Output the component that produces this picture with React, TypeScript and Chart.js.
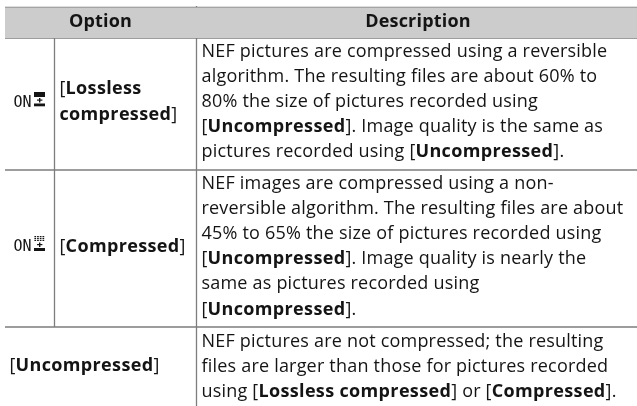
import React, { useEffect, useRef } from "react";
import { Chart, registerables } from "chart.js";

Chart.register(...registerables);

const headerLabels = ["Option", "Description"];
const optionLines = [
  ["[**Lossless**", "**compressed**]"],
  ["[**Compressed**]"],
  ["[**Uncompressed**]"],
];
const iconLabels = ["ON", "ON"];
const descriptionRows = [
  [
    "NEF pictures are compressed using a reversible",
    "algorithm. The resulting files are about 60% to",
    "80% the size of pictures recorded using",
    "[**Uncompressed**]. Image quality is the same as",
    "pictures recorded using [**Uncompressed**].",
  ],
  [
    "NEF images are compressed using a non-",
    "reversible algorithm. The resulting files are about",
    "45% to 65% the size of pictures recorded using",
    "[**Uncompressed**]. Image quality is nearly the",
    "same as pictures recorded using",
    "[**Uncompressed**].",
  ],
  [
    "NEF pictures are not compressed; the resulting",
    "files are larger than those for pictures recorded",
    "using [**Lossless compressed**] or [**Compressed**].",
  ],
];

const FONT = '"Open Sans", "Noto Sans", sans-serif';
const SIZE = 18;
const INK = "#141414";
const RULE = "#7d7d7d";

function drawRich(ctx: CanvasRenderingContext2D, text: string, x: number, y: number) {
  let cx = x;
  text.split("**").forEach((part, i) => {
    (ctx as any).letterSpacing = i % 2 ? "0.35px" : "0.2px";
    ctx.font = `${i % 2 ? "bold" : "normal"} ${SIZE}px ${FONT}`;
    ctx.fillText(part, cx, y);
    cx += ctx.measureText(part).width;
  });
}

const tablePlugin = {
  id: "tableText",
  afterDatasetsDraw(chart: any) {
    const { ctx, scales } = chart;
    const X = (v: number) => scales.x.getPixelForValue(v);
    const Y = (v: number) => scales.y.getPixelForValue(v);
    ctx.save();
    ctx.fillStyle = INK;
    ctx.textBaseline = "alphabetic";
    ctx.textAlign = "left";
    (ctx as any).letterSpacing = "0.2px";

    ctx.font = `bold ${SIZE}px ${FONT}`;
    const hw0 = ctx.measureText(headerLabels[0]).width;
    ctx.fillText(headerLabels[0], X(100.5) - hw0 / 2, Y(27));
    const hw1 = ctx.measureText(headerLabels[1]).width;
    ctx.fillText(headerLabels[1], X(418) - hw1 / 2, Y(27));

    const descStarts = [57, 189, 347];
    descriptionRows.forEach((lines, r) => {
      lines.forEach((line, i) => drawRich(ctx, line, X(201.5), Y(descStarts[r] + i * 25.1)));
    });

    drawRich(ctx, optionLines[0][0], X(59.5), Y(94));
    drawRich(ctx, optionLines[0][1], X(59.5), Y(120));
    drawRich(ctx, optionLines[1][0], X(59.5), Y(252));
    drawRich(ctx, optionLines[2][0], X(9.5), Y(371));

    (ctx as any).letterSpacing = "0px";
    ctx.font = '15px "DejaVu Sans Mono", monospace';
    ctx.fillText(iconLabels[0], X(13.5), Y(107));
    ctx.fillText(iconLabels[1], X(13.5), Y(251));

    const box = (x: number, y: number, w: number, h: number) =>
      ctx.fillRect(X(x), Y(y), X(x + w) - X(x), Y(y + h) - Y(y));
    // lossless glyph
    box(34, 92, 11, 5);
    box(39, 98, 1.4, 4.5);
    box(37, 99.5, 5.4, 1.2);
    box(34, 103.5, 11, 2.8);
    // compressed glyph
    for (let c = 0; c < 4; c++) for (let r = 0; r < 3; r++) box(34.4 + c * 2.7, 236 + r * 1.9, 1.7, 1.2);
    box(39, 242.5, 1.4, 4.5);
    box(37, 244, 5.4, 1.2);
    box(34, 248, 11, 3);
    ctx.restore();
  },
};

const topRule = [{ x: 5, y: 7.5 }, { x: 637, y: 7.5 }];
const headerRule = [{ x: 5, y: 38 }, { x: 637, y: 38 }];
const rowRuleA = [{ x: 5, y: 170 }, { x: 637, y: 170 }];
const rowRuleB = [{ x: 5, y: 327 }, { x: 637, y: 327 }];
const iconColumnRule = [{ x: 54.5, y: 37 }, { x: 54.5, y: 327 }];
const descColumnRule = [{ x: 196.5, y: 6 }, { x: 196.5, y: 406 }];
const rules = [topRule, headerRule, rowRuleA, rowRuleB, iconColumnRule, descColumnRule];
const headerBand = [{ x: 5, y: 38 }, { x: 637, y: 38 }];

export default function App() {
  const ref = useRef<HTMLCanvasElement>(null);
  useEffect(() => {
    document.body.style.margin = "0";
    document.body.style.background = "#fff";
    const chart = new Chart(ref.current!, {
      type: "line",
      data: {
        datasets: [
          {
            data: headerBand,
            borderWidth: 0,
            pointRadius: 0,
            fill: { value: 7.5 },
            backgroundColor: "#cccccc",
          } as any,
          ...rules.map((data) => ({
            data,
            borderColor: RULE,
            borderWidth: 1.3,
            pointRadius: 0,
            fill: false,
          })),
        ],
      },
      options: {
        animation: false,
        responsive: false,
        parsing: false,
        layout: { padding: 0 },
        plugins: { legend: { display: false }, tooltip: { enabled: false } },
        scales: {
          x: { type: "linear", display: false, min: 0, max: 637 },
          y: { type: "linear", display: false, min: 0, max: 406, reverse: true },
        },
      },
      plugins: [tablePlugin],
    });
    return () => chart.destroy();
  }, []);
  return <canvas ref={ref} width={637} height={406} style={{ display: "block" }} />;
}
